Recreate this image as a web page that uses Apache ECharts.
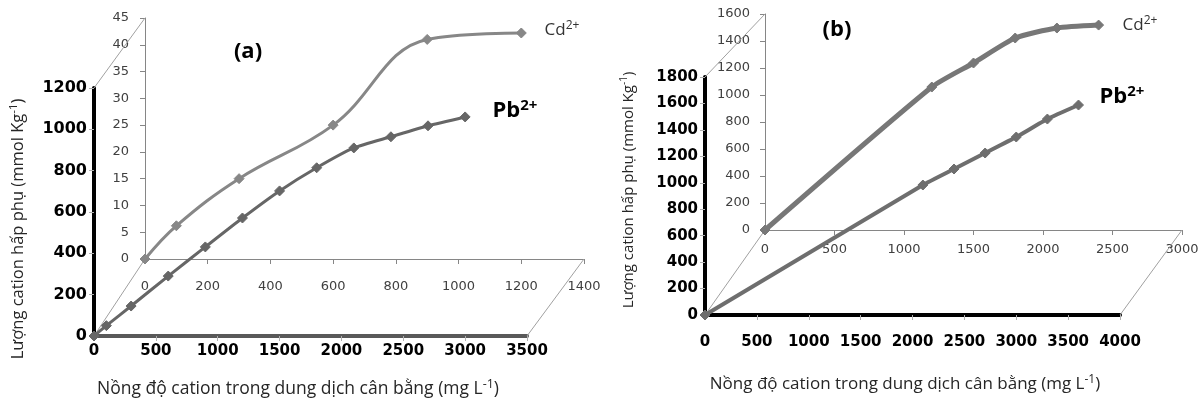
<!DOCTYPE html>
<html>
<head>
<meta charset="utf-8">
<script src="https://cdn.jsdelivr.net/npm/echarts@6/dist/echarts.min.js"></script>
<style>
  html, body { margin: 0; padding: 0; background: #fff; }
  #chart { width: 1204px; height: 403px; }
</style>
</head>
<body>
<div id="chart"></div>
<script>
// panel (a): Pb on the front axes, Cd on the back (skewed) axes
const aPbX = [0, 100, 300, 600, 900, 1200, 1500, 1800, 2100, 2400, 2700, 3000]
const aPbY = [0, 50, 145, 290, 431, 571, 702, 814, 910, 964, 1017, 1060]
const aCdX = [0, 100, 300, 600, 900, 1200]
const aCdY = [0, 6.2, 15, 25, 41, 42.2]

// panel (b)
const bPbX = [0, 2100, 2400, 2700, 3000, 3300, 3600]
const bPbY = [0, 983, 1104, 1225, 1346, 1482, 1588]
const bCdX = [0, 1200, 1500, 1800, 2100, 2400]
const bCdY = [0, 1059, 1237, 1422, 1496, 1518]

// axis ranges [min, max, interval]
const aFrontX = [0, 3500, 500]
const aFrontY = [0, 1200, 200]
const aBackX = [0, 1400, 200]
const aBackY = [0, 45, 5]
const bFrontX = [0, 4000, 500]
const bFrontY = [0, 1800, 200]
const bBackX = [0, 3000, 500]
const bBackY = [0, 1600, 200]

const yTitle = '{t|Lượng cation hấp phụ (mmol Kg}{s|-1}{t|)}'
const xTitle = '{t|Nồng độ cation trong dung dịch cân bằng (mg L}{s|-1}{t|)}'

const numFont = 'DejaVu Sans'
const txtFont = 'Open Sans'
const plain = v => String(v)

const pairs = (xs, ys) => xs.map((x, i) => [x, ys[i]])

function frontX(r, lineColor, margin) {
  return {
    type: 'value', min: r[0], max: r[1], interval: r[2],
    axisLine: { lineStyle: { color: lineColor, width: 4 } },
    axisTick: { length: 5, lineStyle: { color: '#b0b0b0' } },
    axisLabel: { fontFamily: numFont, fontWeight: 'bold', fontSize: 15, color: '#000', margin: margin, formatter: plain },
    splitLine: { show: false }
  }
}
function frontY(r, size) {
  return {
    type: 'value', min: r[0], max: r[1], interval: r[2],
    axisLine: { show: true, lineStyle: { color: '#000', width: 4 } },
    axisTick: { show: true, length: 5, lineStyle: { color: '#b0b0b0' } },
    axisLabel: { fontFamily: numFont, fontWeight: 'bold', fontSize: size, color: '#000', margin: 7, formatter: plain },
    splitLine: { show: false }
  }
}
function backAxis(r, margin) {
  return {
    type: 'value', min: r[0], max: r[1], interval: r[2],
    axisLine: { show: true, lineStyle: { color: '#868686', width: 1 } },
    axisTick: { show: true, length: 5, lineStyle: { color: '#868686' } },
    axisLabel: { fontFamily: numFont, fontSize: 13, color: '#404040', margin: margin, formatter: plain },
    splitLine: { show: false }
  }
}

const grids = [
  { left: 94, top: 88, width: 433, height: 248 },
  { left: 145, top: 18, width: 439, height: 241 },
  { left: 705, top: 77, width: 415, height: 238 },
  { left: 765, top: 14, width: 417, height: 216 }
]

function lineSeries(idx, data, color, width, smooth, z) {
  return {
    type: 'line', xAxisIndex: idx, yAxisIndex: idx,
    data: data, smooth: smooth, z: z,
    symbol: 'diamond', symbolSize: 10, showSymbol: true,
    lineStyle: { color: color, width: width },
    itemStyle: { color: color, borderColor: color },
    animation: false
  }
}

const chart = echarts.init(document.getElementById('chart'))
chart.setOption({
  animation: false,
  grid: grids,
  xAxis: [
    Object.assign(frontX(aFrontX, '#595959', 8), { gridIndex: 0 }),
    Object.assign(backAxis(aBackX, 21), { gridIndex: 1 }),
    Object.assign(frontX(bFrontX, '#000', 20), { gridIndex: 2 }),
    Object.assign(backAxis(bBackX, 13), { gridIndex: 3 })
  ],
  yAxis: [
    Object.assign(frontY(aFrontY, 16), { gridIndex: 0 }),
    Object.assign(backAxis(aBackY, 16), { gridIndex: 1 }),
    Object.assign(frontY(bFrontY, 15), { gridIndex: 2 }),
    Object.assign(backAxis(bBackY, 15), { gridIndex: 3 })
  ],
  series: [
    lineSeries(1, pairs(aCdX, aCdY), '#878787', 3, 0.4, 3),
    lineSeries(0, pairs(aPbX, aPbY), '#666666', 3, 0.2, 4),
    lineSeries(3, pairs(bCdX, bCdY), '#777777', 5, 0.2, 3),
    lineSeries(2, pairs(bPbX, bPbY), '#6e6e6e', 4, 0.15, 4)
  ]
})

// skewed connectors between front and back axes
const px = (i, v) => chart.convertToPixel({ xAxisIndex: i, yAxisIndex: i }, v)
function connector(f, b, vf, vb) {
  const p1 = px(f, vf), p2 = px(b, vb)
  return { type: 'line', z: 1, shape: { x1: p1[0], y1: p1[1], x2: p2[0], y2: p2[1] }, style: { stroke: '#a0a0a0', lineWidth: 1 } }
}
function label(x, y, text, rich, rot) {
  return { type: 'text', x: x, y: y, rotation: rot || 0, z: 10,
    style: { text: text, rich: rich, align: 'center', verticalAlign: 'middle' } }
}
const titleRich = size => ({
  t: { fontFamily: txtFont, fontSize: size, fill: '#262626', lineHeight: size + 4 },
  s: { fontFamily: txtFont, fontSize: size - 5, fill: '#262626', verticalAlign: 'top', lineHeight: size + 4 }
})
const ionRich = (size, bold) => ({
  t: { fontFamily: txtFont, fontSize: size, fontWeight: bold ? 'bold' : 'normal', fill: bold ? '#000' : '#333', lineHeight: size + 4 },
  s: { fontFamily: txtFont, fontSize: Math.round(size * 0.7), fontWeight: bold ? 'bold' : 'normal', fill: bold ? '#000' : '#333', verticalAlign: 'top', lineHeight: size + 4 }
})

chart.setOption({
  graphic: [
    connector(0, 1, [aFrontX[0], aFrontY[0]], [aBackX[0], aBackY[0]]),
    connector(0, 1, [aFrontX[0], aFrontY[1]], [aBackX[0], aBackY[1]]),
    connector(0, 1, [aFrontX[1], aFrontY[0]], [aBackX[1], aBackY[0]]),
    connector(2, 3, [bFrontX[0], bFrontY[0]], [bBackX[0], bBackY[0]]),
    connector(2, 3, [bFrontX[0], bFrontY[1]], [bBackX[0], bBackY[1]]),
    connector(2, 3, [bFrontX[1], bFrontY[0]], [bBackX[1], bBackY[0]]),
    label(248, 52, '{t|(a)}', ionRich(22, true)),
    label(837, 30, '{t|(b)}', ionRich(22, true)),
    label(562, 30, '{t|Cd}{s|2+}', ionRich(17, false)),
    label(1140, 25, '{t|Cd}{s|2+}', ionRich(17, false)),
    label(515, 111, '{t|Pb}{s|2+}', ionRich(22, true)),
    label(1122, 97, '{t|Pb}{s|2+}', ionRich(22, true)),
    label(18, 229, yTitle, titleRich(16.5), Math.PI / 2),
    label(629, 190, yTitle, titleRich(15), Math.PI / 2),
    label(298, 389, xTitle, titleRich(17.5)),
    label(905, 384, xTitle, titleRich(17))
  ]
})
</script>
</body>
</html>
